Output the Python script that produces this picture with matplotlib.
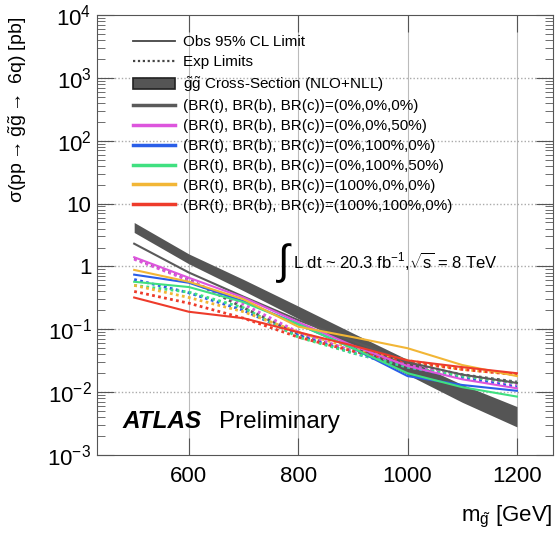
import matplotlib
matplotlib.use("Agg")
import matplotlib.pyplot as plt
from matplotlib.patches import Patch
from matplotlib.lines import Line2D

plt.rcParams['font.family'] = ['Liberation Sans', 'DejaVu Sans']
plt.rcParams['mathtext.fontset'] = 'custom'
plt.rcParams['mathtext.rm'] = 'Liberation Sans'
plt.rcParams['mathtext.it'] = 'Liberation Sans'
plt.rcParams['mathtext.bf'] = 'Liberation Sans:bold'

# gluino mass points [GeV]
mass = [500, 600, 700, 800, 900, 1000, 1100, 1200]

# theory cross-section band (NLO+NLL) [pb]
xsec_up = [5.0, 1.58, 0.62, 0.234, 0.087, 0.033, 0.0132, 0.0059]
xsec_dn = [3.47, 1.10, 0.41, 0.148, 0.0525, 0.019, 0.0069, 0.0028]

# BR scenarios
labels = ["(BR(t), BR(b), BR(c))=(0%,0%,0%)",
          "(BR(t), BR(b), BR(c))=(0%,0%,50%)",
          "(BR(t), BR(b), BR(c))=(0%,100%,0%)",
          "(BR(t), BR(b), BR(c))=(0%,100%,50%)",
          "(BR(t), BR(b), BR(c))=(100%,0%,0%)",
          "(BR(t), BR(b), BR(c))=(100%,100%,0%)"]
colors = ['#5a5a5a', '#dd55dd', '#2a5ee8', '#40e080', '#f2b636', '#ee3b2b']

# observed / expected 95% CL limits [pb]
obs_000 = [2.3, 0.80, 0.33, 0.14, 0.065, 0.030, 0.019, 0.014]
exp_000 = [1.35, 0.62, 0.22, 0.085, 0.045, 0.028, 0.019, 0.0145]
obs_0050 = [1.4, 0.66, 0.32, 0.13, 0.055, 0.026, 0.016, 0.0115]
exp_0050 = [1.3, 0.60, 0.25, 0.09, 0.045, 0.027, 0.018, 0.013]
obs_01000 = [0.74, 0.55, 0.28, 0.12, 0.050, 0.018, 0.013, 0.0105]
exp_01000 = [0.62, 0.38, 0.20, 0.08, 0.042, 0.025, 0.017, 0.012]
obs_010050 = [0.57, 0.47, 0.27, 0.12, 0.050, 0.020, 0.012, 0.0085]
exp_010050 = [0.50, 0.39, 0.22, 0.075, 0.042, 0.025, 0.018, 0.014]
obs_10000 = [0.88, 0.57, 0.30, 0.11, 0.075, 0.050, 0.027, 0.018]
exp_10000 = [0.50, 0.32, 0.19, 0.09, 0.050, 0.032, 0.023, 0.019]
obs_1001000 = [0.32, 0.19, 0.15, 0.09, 0.055, 0.032, 0.025, 0.020]
exp_1001000 = [0.40, 0.26, 0.15, 0.075, 0.045, 0.030, 0.023, 0.019]

observed = [obs_000, obs_0050, obs_01000, obs_010050, obs_10000, obs_1001000]
expected = [exp_000, exp_0050, exp_01000, exp_010050, exp_10000, exp_1001000]

ytick_vals = [1e-3, 1e-2, 1e-1, 1, 10, 1e2, 1e3, 1e4]
ytick_labels = [r'$10^{-3}$', r'$10^{-2}$', r'$10^{-1}$', '1', '10',
                r'$10^{2}$', r'$10^{3}$', r'$10^{4}$']
xtick_vals = [600, 800, 1000, 1200]

fig = plt.figure(figsize=(5.6, 5.37), dpi=100)
ax = fig.add_axes([97/560, 82/537, 456/560, 440/537])

ax.fill_between(mass, xsec_dn, xsec_up, color='#555555', lw=0, zorder=2)

for i in range(len(labels)):
    ax.plot(mass, expected[i], color=colors[i], lw=2.0, ls=(0, (1, 1.2)), zorder=3)
    ax.plot(mass, observed[i], color=colors[i], lw=1.5, zorder=4)

ax.set_yscale('log')
ax.set_xlim(432, 1266)
ax.set_ylim(1e-3, 1e4)
ax.set_yticks(ytick_vals)
ax.set_yticklabels(ytick_labels)
ax.set_xticks(xtick_vals)
ax.tick_params(axis='both', which='both', direction='in', top=True, right=True,
               labelsize=16, color='#555555')
ax.tick_params(axis='x', which='major', length=12, pad=8)
ax.tick_params(axis='y', which='major', length=12, pad=4)
ax.tick_params(axis='y', which='minor', length=6)
for s in ax.spines.values():
    s.set_color('#555555')

for xv in xtick_vals:
    ax.axvline(xv, color='#bbbbbb', lw=0.8, zorder=1)
for yv in ytick_vals[1:-1]:
    ax.axhline(yv, color='#aaaaaa', lw=1.0, ls=(0, (1, 1.5)), zorder=1)

ax.set_ylabel(r'$\sigma$(pp$\rightarrow\tilde{g}\tilde{g}\rightarrow$ 6q) [pb]',
              fontsize=14, loc='top')
ax.yaxis.set_label_coords(-0.15, 0.995)
ax.set_xlabel(r'm$_{\tilde{g}}$ [GeV]', fontsize=16, loc='right')
ax.xaxis.set_label_coords(1.0, -0.11)

handles = [Line2D([], [], color='#444444', lw=1.3),
           Line2D([], [], color='#444444', lw=1.6, ls=(0, (1, 1.2))),
           Patch(facecolor='#555555', edgecolor='#222222', lw=1.2)]
names = ['Obs 95% CL Limit', 'Exp Limits', r'$\tilde{g}\tilde{g}$ Cross-Section (NLO+NLL)']
for c, l in zip(colors, labels):
    handles.append(Line2D([], [], color=c, lw=2.5))
    names.append(l)
ax.legend(handles, names, loc='upper left', bbox_to_anchor=(0.065, 0.968),
          frameon=False, fontsize=11, handlelength=2.75, labelspacing=0.38,
          handletextpad=0.55, borderaxespad=0)

ax.text(0.392, 0.437, r'$\int$', transform=ax.transAxes, fontsize=30, va='center')
ax.text(0.43, 0.44, r'L dt ~ 20.3 fb$^{-1}$,$\sqrt{s}$ = 8 TeV',
        transform=ax.transAxes, fontsize=12, va='center')

ax.text(0.057, 0.075, 'ATLAS', transform=ax.transAxes, fontsize=17.5,
        fontweight='bold', fontstyle='italic', va='center')
ax.text(0.268, 0.075, 'Preliminary', transform=ax.transAxes, fontsize=17.5, va='center')

fig.savefig('out.png', dpi=100)
